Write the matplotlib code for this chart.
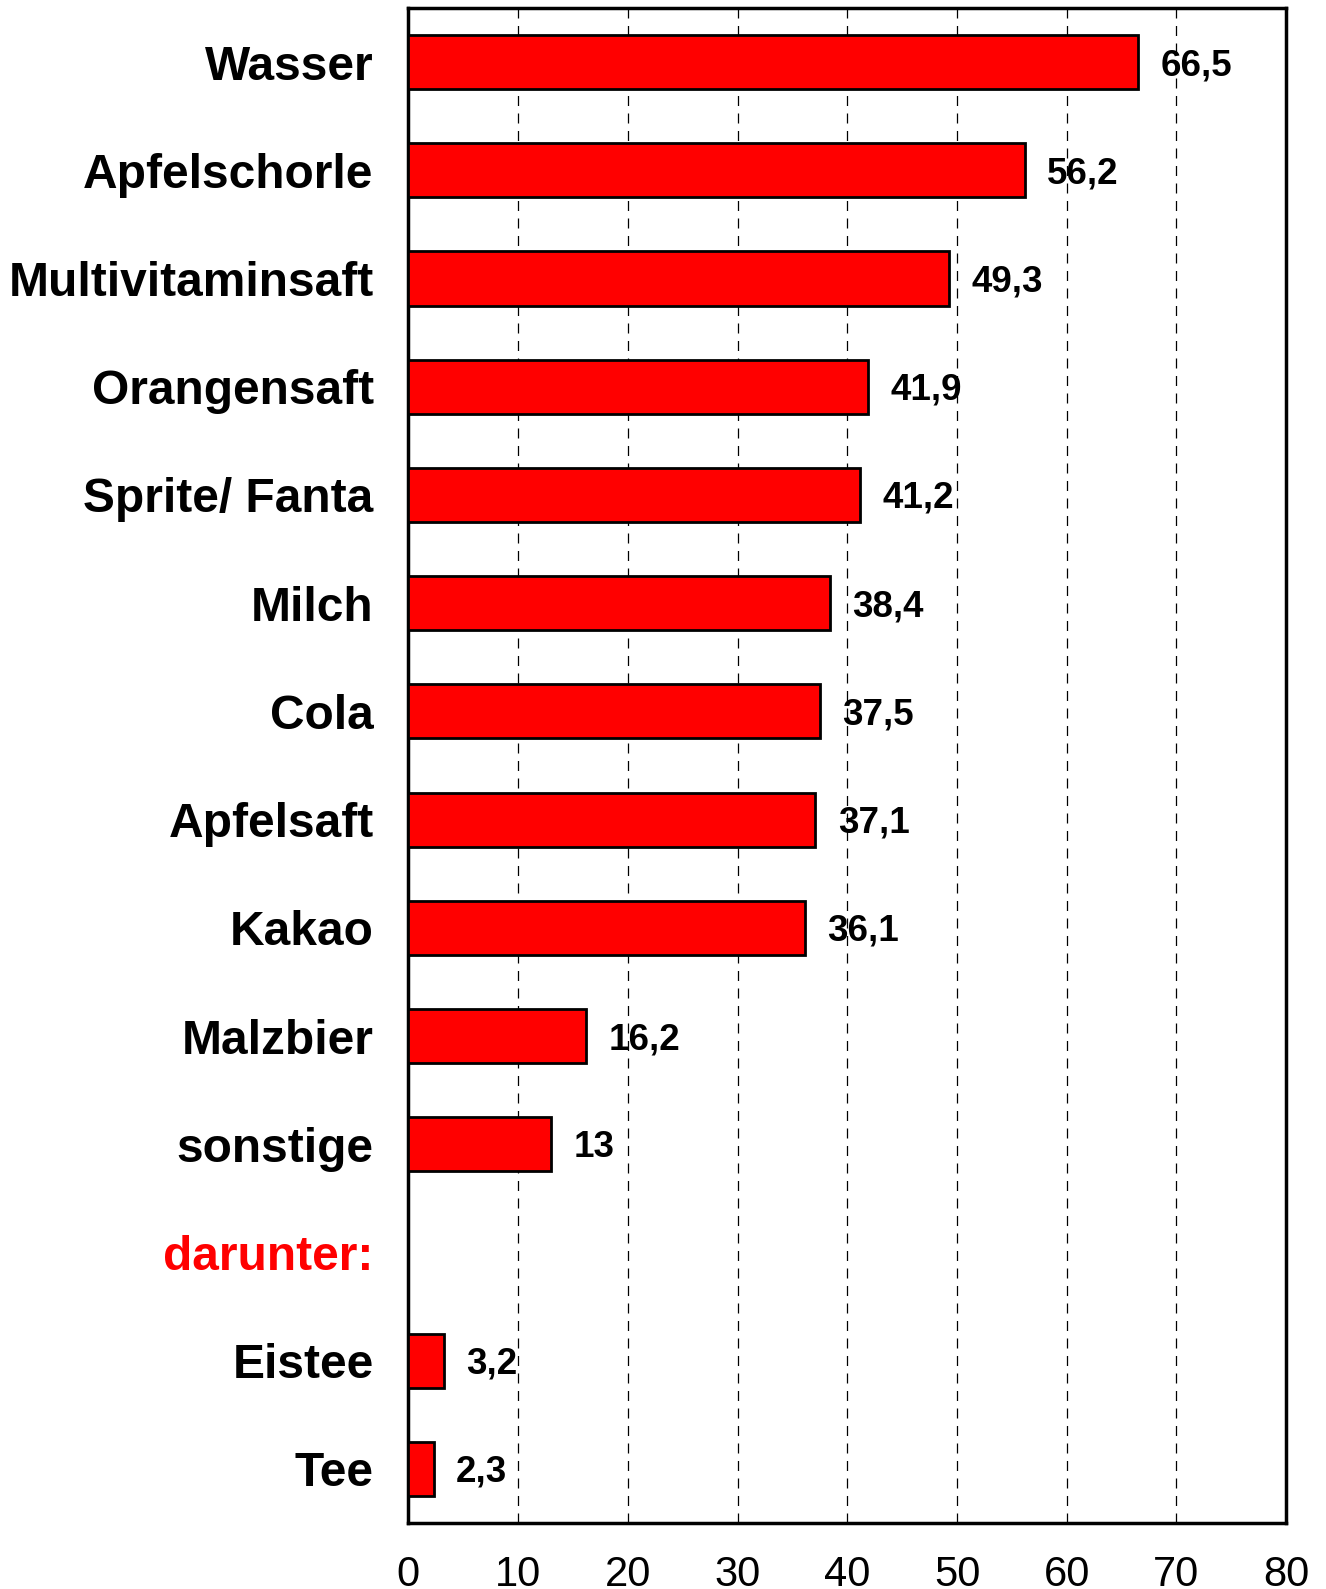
import matplotlib
matplotlib.use("Agg")
import matplotlib.pyplot as plt

# Daten (von oben nach unten)
categories = ["Wasser", "Apfelschorle", "Multivitaminsaft", "Orangensaft",
              "Sprite/ Fanta", "Milch", "Cola", "Apfelsaft", "Kakao",
              "Malzbier", "sonstige", "darunter:", "Eistee", "Tee"]
values = [66.5, 56.2, 49.3, 41.9, 41.2, 38.4, 37.5, 37.1, 36.1,
          16.2, 13.0, None, 3.2, 2.3]
value_labels = ["66,5", "56,2", "49,3", "41,9", "41,2", "38,4", "37,5",
                "37,1", "36,1", "16,2", "13", "", "3,2", "2,3"]
xticks = [0, 10, 20, 30, 40, 50, 60, 70, 80]

NARROW = ["Liberation Sans Narrow", "Liberation Sans", "DejaVu Sans"]
WIDE = ["Liberation Sans", "DejaVu Sans"]

fig = plt.figure(figsize=(13.26, 15.89), dpi=100)
ax = fig.add_axes([0.308, 0.0415, 0.662, 0.9535])

ypos = list(range(len(categories)))
for y, v, lab in zip(ypos, values, value_labels):
    if v is None:
        continue
    ax.barh(y, v, height=0.5, color="#ff0000", edgecolor="black",
            linewidth=2, zorder=3)
    ax.annotate(lab, (v, y), xytext=(16, -2.5), textcoords="offset points",
                ha="left", va="center", fontsize=26.5, fontweight="bold",
                family=NARROW, zorder=4)

ax.set_ylim(len(categories) - 0.5, -0.5)
ax.set_xlim(0, 80)
ax.set_xticks(xticks)
ax.set_xticklabels([str(t) for t in xticks], fontsize=30, family=NARROW)
ax.set_yticks(ypos)
ax.set_yticklabels(categories, fontsize=34.5, fontweight="bold", family=WIDE)
for lbl in ax.get_yticklabels():
    if lbl.get_text() == "darunter:":
        lbl.set_color("#ff0000")
ax.tick_params(axis="both", length=0)
ax.tick_params(axis="x", pad=23)
ax.tick_params(axis="y", pad=25)

ax.xaxis.grid(True, linestyle=(0, (8, 6)), color="black", linewidth=0.9, zorder=0)
ax.set_axisbelow(True)
for s in ax.spines.values():
    s.set_linewidth(2.5)

fig.savefig("out.png", dpi=100)
